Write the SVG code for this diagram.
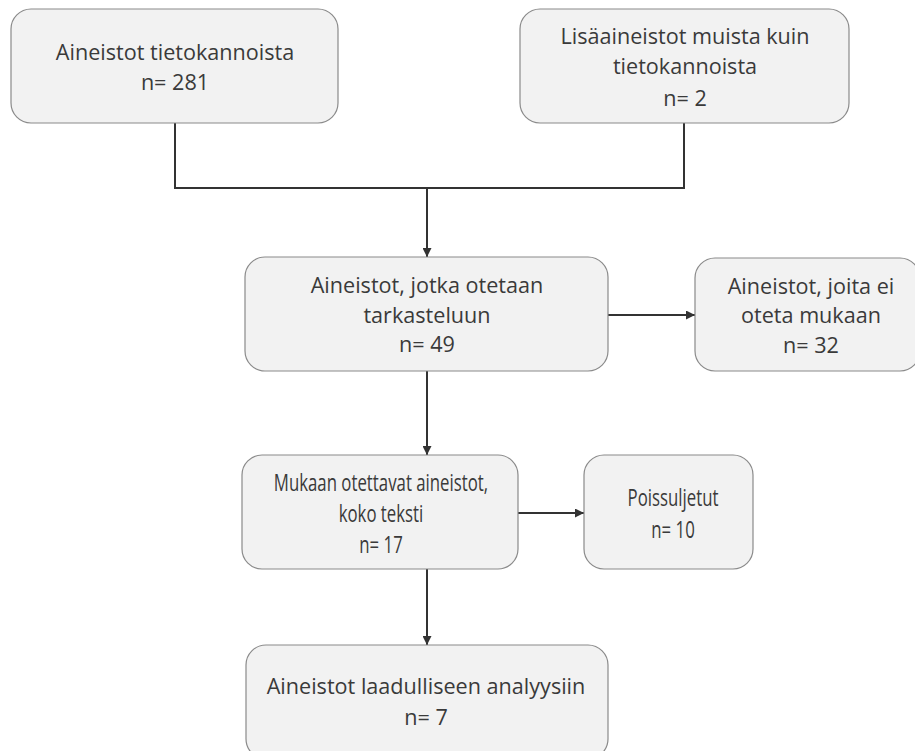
<svg xmlns="http://www.w3.org/2000/svg" width="915" height="751" viewBox="0 0 915 751">
  <style>
    .box { fill: #f2f2f2; stroke: #8a8a8a; stroke-width: 1.2; }
    .lbl { font-family: "Open Sans", "Liberation Sans", sans-serif; font-size: 21.6px; fill: #3a3a3a; text-anchor: middle; }
    .tall { font-size: 24px; }
    .wire { fill: none; stroke: #333333; stroke-width: 2; }
  </style>
  <defs>
    <marker id="arrow" viewBox="0 0 10 10" refX="10" refY="5" markerWidth="9" markerHeight="9" markerUnits="userSpaceOnUse" orient="auto">
      <path d="M0,0 L10,5 L0,10 z" fill="#333333"/>
    </marker>
  </defs>
  <rect width="915" height="751" fill="#ffffff"/>

  <g id="connectors">
    <path class="wire" d="M175,123 V188 H684 V123"/>
    <path class="wire" d="M427,188 V257" marker-end="url(#arrow)"/>
    <path class="wire" d="M608,315 H695" marker-end="url(#arrow)"/>
    <path class="wire" d="M427,371 V455" marker-end="url(#arrow)"/>
    <path class="wire" d="M518,513 H584" marker-end="url(#arrow)"/>
    <path class="wire" d="M427,569 V645" marker-end="url(#arrow)"/>
  </g>

  <g id="node-tietokannat">
    <rect class="box" x="11" y="9" width="327" height="114" rx="20"/>
    <text class="lbl" x="175" y="60">Aineistot tietokannoista</text>
    <text class="lbl" x="175" y="90">n= 281</text>
  </g>

  <g id="node-lisaaineistot">
    <rect class="box" x="520" y="9" width="329" height="114" rx="20"/>
    <text class="lbl" x="685" y="44">Lisäaineistot muista kuin</text>
    <text class="lbl" x="685" y="74">tietokannoista</text>
    <text class="lbl" x="685" y="106">n= 2</text>
  </g>

  <g id="node-tarkastelu">
    <rect class="box" x="245" y="257" width="363" height="114" rx="20"/>
    <text class="lbl" x="427" y="293">Aineistot, jotka otetaan</text>
    <text class="lbl" x="427" y="323">tarkasteluun</text>
    <text class="lbl" x="427" y="352">n= 49</text>
  </g>

  <g id="node-ei-mukaan">
    <rect class="box" x="695" y="258" width="225" height="113" rx="20"/>
    <text class="lbl" x="811" y="294">Aineistot, joita ei</text>
    <text class="lbl" x="811" y="323">oteta mukaan</text>
    <text class="lbl" x="811" y="353">n= 32</text>
  </g>

  <g id="node-koko-teksti">
    <rect class="box" x="242" y="455" width="276" height="114" rx="20"/>
    <!-- condensed lettering in this box -->
    <g transform="translate(381,0) scale(0.70,1)">
      <text class="lbl tall" x="0" y="491">Mukaan otettavat aineistot,</text>
      <text class="lbl tall" x="0" y="522">koko teksti</text>
      <text class="lbl tall" x="0" y="553">n= 17</text>
    </g>
  </g>

  <g id="node-poissuljetut">
    <rect class="box" x="584" y="455" width="169" height="114" rx="20"/>
    <g transform="translate(673,0) scale(0.70,1)">
      <text class="lbl tall" x="0" y="506">Poissuljetut</text>
      <text class="lbl tall" x="0" y="538">n= 10</text>
    </g>
  </g>

  <g id="node-analyysi">
    <rect class="box" x="246" y="645" width="362" height="114" rx="20"/>
    <text class="lbl" x="426" y="694">Aineistot laadulliseen analyysiin</text>
    <text class="lbl" x="426" y="725">n= 7</text>
  </g>
</svg>
